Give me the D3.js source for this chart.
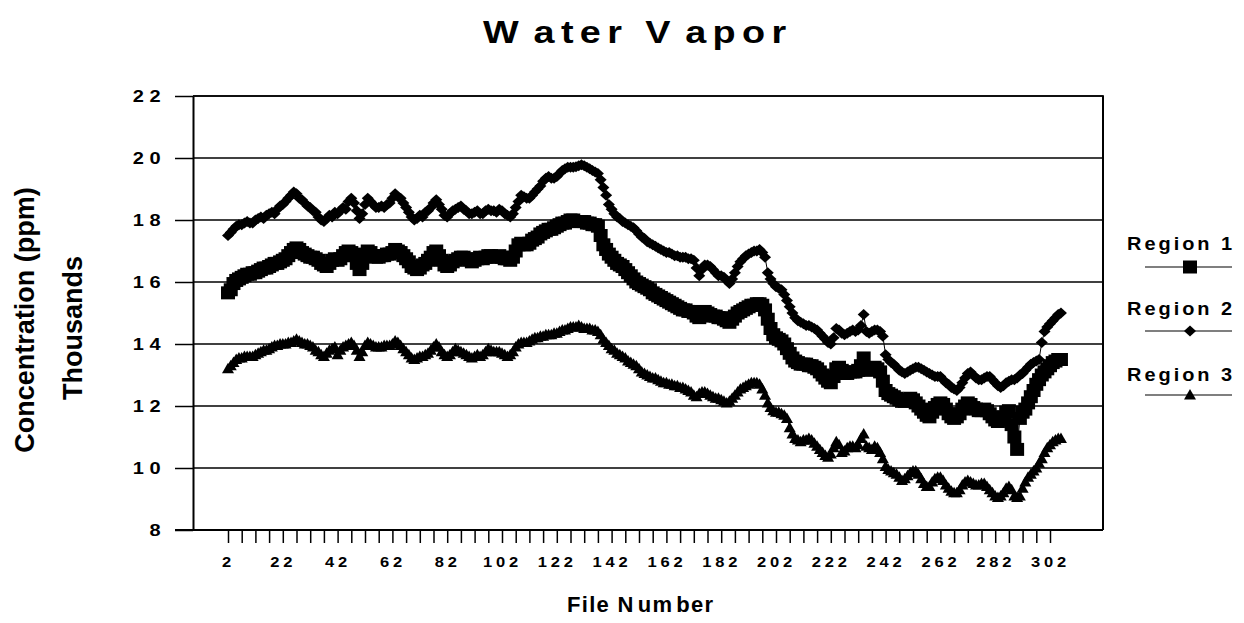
<!DOCTYPE html>
<html>
<head>
<meta charset="utf-8">
<script src="https://cdn.jsdelivr.net/npm/d3@7"></script>
<style>
  body { margin: 0; background: #fff; }
  svg { display: block; }
  text { font-family: "Liberation Sans", Arial, sans-serif; font-weight: bold; font-kerning: none; fill: #000; }
</style>
</head>
<body>
<svg id="chart" width="1244" height="623"></svg>
<script>
// Water vapor concentration (thousands of ppm) per file, starting at file 2
const firstFile = 2;

const region1 = [
  15.65, 15.75, 15.95, 16.05, 16.1, 16.15, 16.2, 16.25, 16.25, 16.3,
  16.3, 16.35, 16.4, 16.45, 16.45, 16.5, 16.55, 16.6, 16.6, 16.65,
  16.7, 16.75, 16.85, 16.95, 17.05, 17.1, 17.05, 16.95, 16.9, 16.85,
  16.8, 16.8, 16.75, 16.7, 16.6, 16.55, 16.5, 16.6, 16.7, 16.75,
  16.7, 16.75, 16.85, 16.95, 17.0, 16.95, 16.85, 16.6, 16.4, 16.6,
  16.9, 17.0, 16.95, 16.85, 16.8, 16.8, 16.85, 16.85, 16.9, 16.9,
  16.95, 17.05, 17.0, 16.95, 16.85, 16.75, 16.65, 16.5, 16.45, 16.4,
  16.45, 16.55, 16.6, 16.7, 16.8, 16.95, 17.0, 16.85, 16.7, 16.55,
  16.5, 16.55, 16.65, 16.7, 16.75, 16.8, 16.8, 16.75, 16.7, 16.65,
  16.7, 16.75, 16.8, 16.75, 16.8, 16.85, 16.85, 16.8, 16.8, 16.85,
  16.8, 16.75, 16.75, 16.7, 16.8, 17.0, 17.2, 17.25, 17.2, 17.2,
  17.25, 17.35, 17.4, 17.45, 17.55, 17.6, 17.65, 17.7, 17.7, 17.75,
  17.8, 17.85, 17.9, 17.9, 17.95, 18.0, 18.0, 17.95, 17.95, 17.95,
  17.95, 17.9, 17.9, 17.85, 17.85, 17.8, 17.5, 17.2, 17.05, 16.9,
  16.8, 16.7, 16.6, 16.55, 16.5, 16.4, 16.3, 16.2, 16.1, 16.0,
  15.95, 15.9, 15.85, 15.8, 15.75, 15.65, 15.6, 15.55, 15.5, 15.45,
  15.4, 15.35, 15.3, 15.25, 15.2, 15.15, 15.1, 15.1, 15.05, 15.05,
  15.0, 14.9, 14.85, 14.95, 15.05, 15.0, 14.95, 14.9, 14.9, 14.85,
  14.85, 14.8, 14.75, 14.7, 14.8, 14.9, 15.0, 15.05, 15.1, 15.15,
  15.2, 15.25, 15.25, 15.3, 15.3, 15.25, 15.1, 14.8, 14.5, 14.3,
  14.2, 14.15, 14.1, 14.0, 13.85, 13.7, 13.55, 13.45, 13.4, 13.35,
  13.35, 13.35, 13.3, 13.3, 13.25, 13.2, 13.1, 13.0, 12.9, 12.8,
  12.75, 12.95, 13.2, 13.25, 13.15, 13.05, 13.05, 13.1, 13.1, 13.1,
  13.15, 13.3, 13.55, 13.2, 13.15, 13.2, 13.25, 13.2, 13.1, 12.8,
  12.5, 12.4, 12.35, 12.3, 12.25, 12.2, 12.15, 12.15, 12.2, 12.25,
  12.2, 12.1, 12.0, 11.9, 11.8, 11.7, 11.65, 11.8, 11.95, 12.05,
  12.1, 12.05, 11.9, 11.75, 11.65, 11.6, 11.65, 11.75, 11.9, 12.0,
  12.1, 12.05, 11.95, 11.9, 11.85, 11.85, 11.9, 11.85, 11.75, 11.65,
  11.55, 11.5, 11.55, 11.65, 11.8, 11.85, 11.4, 11.0, 10.6, 11.6,
  11.8, 11.9, 12.1, 12.3, 12.5, 12.7, 12.85, 13.0, 13.1, 13.2,
  13.3, 13.4, 13.45, 13.5, 13.5
];

const region2 = [
  17.5, 17.6, 17.7, 17.8, 17.85, 17.85, 17.9, 17.95, 17.9, 17.9,
  18.0, 18.05, 18.1, 18.05, 18.15, 18.2, 18.25, 18.2, 18.35, 18.45,
  18.5, 18.6, 18.7, 18.8, 18.9, 18.85, 18.7, 18.65, 18.55, 18.45,
  18.4, 18.3, 18.25, 18.1, 18.0, 17.95, 18.05, 18.15, 18.1, 18.25,
  18.2, 18.3, 18.4, 18.35, 18.6, 18.7, 18.55, 18.3, 18.05, 18.2,
  18.5, 18.7, 18.6, 18.5, 18.4, 18.4, 18.45, 18.4, 18.5, 18.55,
  18.7, 18.85, 18.75, 18.7, 18.55, 18.4, 18.25, 18.1, 18.0, 18.05,
  18.15, 18.1, 18.25, 18.3, 18.4, 18.55, 18.65, 18.5, 18.35, 18.15,
  18.1, 18.2, 18.3, 18.35, 18.4, 18.45, 18.35, 18.3, 18.2, 18.2,
  18.25, 18.3, 18.2, 18.2, 18.3, 18.35, 18.3, 18.3, 18.25, 18.35,
  18.3, 18.2, 18.15, 18.1, 18.2, 18.4, 18.6, 18.8, 18.75, 18.7,
  18.7, 18.8, 18.9, 19.0, 19.1, 19.25, 19.35, 19.4, 19.35, 19.35,
  19.4, 19.5, 19.6, 19.65, 19.7, 19.7, 19.7, 19.72, 19.75, 19.78,
  19.75, 19.7, 19.65, 19.6, 19.55, 19.5, 19.3, 19.05, 18.8, 18.5,
  18.35, 18.2, 18.1, 18.05, 17.95, 17.9, 17.85, 17.8, 17.75, 17.65,
  17.55, 17.45, 17.4, 17.3, 17.25, 17.2, 17.15, 17.1, 17.05, 17.0,
  16.95, 16.95, 16.9, 16.85, 16.85, 16.8, 16.8, 16.8, 16.75, 16.75,
  16.7, 16.45, 16.2, 16.4, 16.55, 16.55, 16.5, 16.4, 16.3, 16.2,
  16.2, 16.15, 16.05, 15.95, 16.1, 16.3, 16.5, 16.65, 16.75, 16.85,
  16.9, 16.95, 17.0, 17.0, 17.05, 16.95, 16.8, 16.3, 16.1, 15.95,
  15.85, 15.8, 15.75, 15.6, 15.4, 15.2, 15.0, 14.85, 14.75, 14.7,
  14.65, 14.6, 14.6, 14.55, 14.5, 14.45, 14.35, 14.25, 14.15, 14.05,
  14.0, 14.2, 14.5, 14.45, 14.35, 14.3, 14.35, 14.4, 14.45, 14.4,
  14.45, 14.6, 14.95, 14.4, 14.35, 14.4, 14.45, 14.45, 14.4, 14.25,
  13.65, 13.5, 13.4, 13.35, 13.25, 13.15, 13.1, 13.05, 13.1, 13.15,
  13.2, 13.25, 13.25, 13.2, 13.15, 13.1, 13.05, 13.0, 12.95, 12.95,
  12.95, 12.85, 12.75, 12.7, 12.6, 12.55, 12.5, 12.6, 12.75, 12.9,
  13.05, 13.1, 13.0, 12.9, 12.85, 12.85, 12.9, 12.95, 12.95, 12.85,
  12.75, 12.65, 12.6, 12.65, 12.75, 12.8, 12.85, 12.85, 12.9, 13.0,
  13.05, 13.15, 13.25, 13.35, 13.4, 13.45, 13.5, 14.05, 14.4, 14.55,
  14.65, 14.75, 14.85, 14.95, 15.0
];

const region3 = [
  13.2, 13.3, 13.4, 13.5, 13.55, 13.55, 13.6, 13.6, 13.6, 13.6,
  13.65, 13.7, 13.75, 13.8, 13.8, 13.85, 13.9, 13.95, 13.95, 14.0,
  14.0, 14.0, 14.05, 14.05, 14.1, 14.15, 14.1, 14.05, 14.0, 14.0,
  13.95, 13.9, 13.8, 13.75, 13.65, 13.6, 13.7, 13.8, 13.85, 13.9,
  13.65, 13.8, 13.9, 13.95, 14.0, 14.05, 13.95, 13.8, 13.6, 13.75,
  13.95, 14.05, 14.0, 13.95, 13.9, 13.9, 13.9, 13.95, 13.95, 13.95,
  14.0, 14.1, 14.05, 13.95, 13.85, 13.75, 13.65, 13.55, 13.5, 13.55,
  13.6, 13.6, 13.65, 13.7, 13.8, 13.9, 14.0, 13.9, 13.75, 13.65,
  13.6, 13.65, 13.75, 13.85, 13.8, 13.75, 13.7, 13.65, 13.6, 13.55,
  13.6, 13.65, 13.6, 13.65, 13.75, 13.85, 13.8, 13.75, 13.75, 13.75,
  13.7, 13.65, 13.6, 13.65, 13.75, 13.9, 14.0, 14.05, 14.05, 14.05,
  14.1, 14.15, 14.2, 14.2, 14.25, 14.25, 14.3, 14.3, 14.3, 14.35,
  14.35, 14.4, 14.45, 14.45, 14.5, 14.55, 14.55, 14.55, 14.6, 14.55,
  14.5, 14.5, 14.5, 14.45, 14.45, 14.4, 14.3, 14.15, 14.05, 13.95,
  13.85, 13.8, 13.7, 13.65, 13.6, 13.55, 13.45, 13.4, 13.35, 13.3,
  13.2, 13.1, 13.05, 13.0, 12.95, 12.9, 12.9, 12.85, 12.8, 12.75,
  12.75, 12.7, 12.7, 12.65, 12.65, 12.6, 12.6, 12.55, 12.5, 12.45,
  12.35, 12.3, 12.4, 12.45, 12.45, 12.4, 12.35, 12.3, 12.25, 12.25,
  12.2, 12.15, 12.1, 12.15, 12.25, 12.35, 12.45, 12.55, 12.6, 12.65,
  12.7, 12.75, 12.75, 12.75, 12.7, 12.55, 12.35, 12.1, 11.95, 11.85,
  11.8, 11.8, 11.75, 11.7, 11.6, 11.3, 11.1, 10.95, 10.9, 10.85,
  10.9, 10.9, 10.95, 10.9, 10.8, 10.7, 10.6, 10.5, 10.4, 10.35,
  10.45, 10.65, 10.85, 10.75, 10.5, 10.55, 10.65, 10.7, 10.7, 10.65,
  10.75, 10.95, 11.1, 10.7, 10.65, 10.6, 10.7, 10.65, 10.5, 10.3,
  10.05, 9.95, 9.9, 9.85, 9.8, 9.7, 9.6, 9.65, 9.75, 9.85,
  9.9, 9.9, 9.8, 9.65, 9.5, 9.4, 9.4, 9.55, 9.65, 9.7,
  9.7, 9.6, 9.45, 9.35, 9.25, 9.2, 9.2, 9.3, 9.45, 9.55,
  9.6, 9.55, 9.5, 9.45, 9.45, 9.5, 9.5, 9.4, 9.3, 9.2,
  9.1, 9.05, 9.1, 9.2, 9.35, 9.4, 9.3, 9.1, 9.05, 9.1,
  9.35, 9.55, 9.7, 9.8, 9.9, 10.0, 10.15, 10.3, 10.5, 10.65,
  10.75, 10.85, 10.9, 10.95, 10.95
];

const seriesNames = ["Region 1", "Region 2", "Region 3"];
const yTicks = [8, 10, 12, 14, 16, 18, 20, 22];
const xTickFiles = d3.range(2, 303, 5);
const xTickLabels = [2, 22, 42, 62, 82, 102, 122, 142, 162, 182, 202, 222, 242, 262, 282, 302];

const svg = d3.select("#chart");
const plot = { left: 193, right: 1103, top: 96, bottom: 530 };

const x = d3.scaleLinear().domain([2, 302]).range([228, 1050]);
const y = d3.scaleLinear().domain([8, 22]).range([plot.bottom, plot.top]);

// Marker shapes, one per series
const markers = [
  "M-7,-6.5h14v13h-14Z",                  // square
  "M0,-5.5L6,0L0,5.5L-6,0Z",              // diamond
  "M0,-6L6,4.5L-6,4.5Z"                   // triangle
];

// Horizontal gridlines
svg.append("g")
  .selectAll("line")
  .data(yTicks.filter(t => t > 8))
  .join("line")
  .attr("x1", plot.left).attr("x2", plot.right)
  .attr("y1", d => y(d)).attr("y2", d => y(d))
  .attr("stroke", "#000").attr("stroke-width", 1.5);

// Right border of the plot area
svg.append("line")
  .attr("x1", plot.right).attr("x2", plot.right)
  .attr("y1", plot.top).attr("y2", plot.bottom)
  .attr("stroke", "#000").attr("stroke-width", 2);

// Y axis
const yLabelScale = 1.25;
const yAxis = svg.append("g")
  .attr("transform", `translate(${plot.left},0)`)
  .call(d3.axisLeft(y).tickValues(yTicks).tickSize(18).tickSizeOuter(0).tickPadding(11));
yAxis.select(".domain").attr("stroke-width", 2);
yAxis.selectAll(".tick line").attr("stroke-width", 1.5);
yAxis.selectAll(".tick text")
  .style("font-size", "16px")
  .style("letter-spacing", "4.4px")
  .attr("x", -27 / yLabelScale)
  .attr("transform", `scale(${yLabelScale},1)`);

// X axis: tick every 5 files, label every 20
const xLabelScale = 1.1;
const xAxis = svg.append("g")
  .attr("transform", `translate(0,${plot.bottom})`)
  .call(d3.axisBottom(x).tickValues(xTickFiles).tickSize(13).tickPadding(13)
    .tickFormat(d => xTickLabels.includes(d) ? d : ""));
xAxis.select(".domain").remove();
xAxis.selectAll(".tick line").attr("stroke-width", 1.5);
xAxis.selectAll(".tick text")
  .style("font-size", "15px")
  .style("letter-spacing", "3.5px")
  .attr("transform", `scale(${xLabelScale},1)`);
svg.append("line")
  .attr("x1", 175).attr("x2", plot.right)
  .attr("y1", plot.bottom).attr("y2", plot.bottom)
  .attr("stroke", "#000").attr("stroke-width", 2);

// Top border
svg.append("line")
  .attr("x1", plot.left).attr("x2", plot.right + 1)
  .attr("y1", plot.top).attr("y2", plot.top)
  .attr("stroke", "#000").attr("stroke-width", 1.5);

// Series: connecting line plus a marker at every file
const allSeries = [region1, region2, region3];
const line = d3.line().x(d => x(d[0])).y(d => y(d[1]));

allSeries.forEach((vals, si) => {
  const pts = vals.map((v, i) => [firstFile + i, v]);
  const g = svg.append("g").attr("class", "series");
  g.append("path")
    .attr("d", line(pts))
    .attr("fill", "none").attr("stroke", "#000").attr("stroke-width", 1);
  g.selectAll("path.mark")
    .data(pts)
    .join("path")
    .attr("class", "mark")
    .attr("d", markers[si])
    .attr("transform", d => `translate(${x(d[0])},${y(d[1])})`)
    .attr("fill", "#000");
});

// Letter-spaced text, optionally widened, built from pieces with extra gaps
function wideText(pieces, px, py, opts) {
  const g = svg.append("g").attr("transform", `translate(${px},${py}) scale(${opts.sx || 1},1)`);
  const t = g.append("text")
    .attr("text-anchor", opts.anchor || "start")
    .style("font-size", opts.size + "px")
    .style("letter-spacing", (opts.ls || 0) + "px");
  pieces.forEach(p => t.append("tspan").attr("dx", p[1] || 0).text(p[0]));
  return t;
}

// Title
wideText([["W"], ["ater ", 7], ["V"], ["apor", 7]], 483, 43, { size: 31, sx: 1.22, ls: 5.2 });

// X axis title
wideText([["File N"], ["um", 3], ["ber", 3]], 567, 612, { size: 22, ls: 1.3 });

// Y axis titles
svg.append("text")
  .attr("transform", "translate(34,320) rotate(-90)")
  .attr("text-anchor", "middle")
  .style("font-size", "27px")
  .text("Concentration (ppm)");
svg.append("text")
  .attr("transform", "translate(82,328) rotate(-90)")
  .attr("text-anchor", "middle")
  .style("font-size", "27px")
  .text("Thousands");

// Legend
const legendTextY = [250, 315, 381];
const legendLineY = [267, 331, 395];
seriesNames.forEach((name, i) => {
  wideText([[name]], 1127, legendTextY[i], { size: 19, sx: 1.05, ls: 2.85 });
  svg.append("line")
    .attr("x1", 1145).attr("x2", 1232)
    .attr("y1", legendLineY[i]).attr("y2", legendLineY[i])
    .attr("stroke", "#000").attr("stroke-width", 1.2);
  svg.append("path")
    .attr("d", markers[i])
    .attr("transform", `translate(1190,${legendLineY[i]})`)
    .attr("fill", "#000");
});
</script>
</body>
</html>
